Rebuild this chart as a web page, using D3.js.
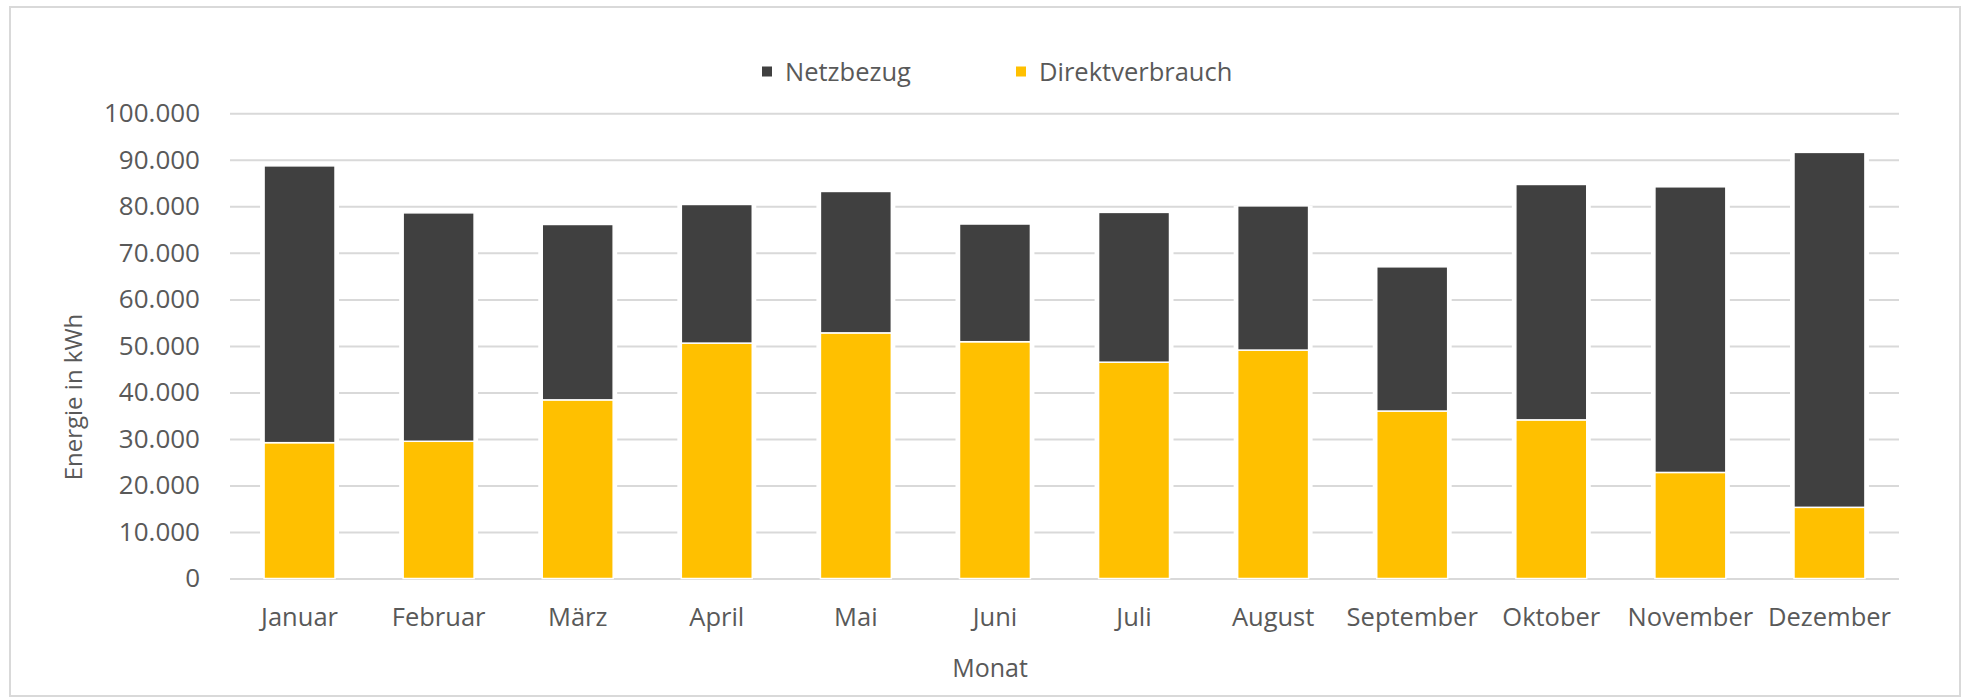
<!DOCTYPE html>
<html>
<head>
<meta charset="utf-8">
<script src="https://cdn.jsdelivr.net/npm/d3@7"></script>
<style>
  html, body { margin: 0; padding: 0; background: #fff; }
  svg { display: block; }
  text { font-family: "Open Sans", "Noto Sans", sans-serif; fill: #595959; }
</style>
</head>
<body>
<svg id="chart" width="1966" height="698"></svg>
<script>
// ---- data ----
const months = ["Januar", "Februar", "März", "April", "Mai", "Juni", "Juli", "August", "September", "Oktober", "November", "Dezember"];
const direktverbrauch = [29200, 29500, 38400, 50600, 52800, 50900, 46500, 49100, 36000, 34100, 22800, 15300];
const netzbezug = [59500, 49100, 37700, 29800, 30400, 25300, 32200, 31000, 31000, 50600, 61400, 76300];
const seriesNames = ["Netzbezug", "Direktverbrauch"];
const seriesColors = ["#404040", "#FFC000"];
const yTickValues = [0, 10000, 20000, 30000, 40000, 50000, 60000, 70000, 80000, 90000, 100000];
const yAxisTitle = "Energie in kWh";
const xAxisTitle = "Monat";

// ---- layout ----
const W = 1966, H = 698;
const plot = { left: 230, right: 1899, top: 113.3, bottom: 578.5 };

const svg = d3.select("#chart");
const deLocale = d3.formatLocale({ decimal: ",", thousands: ".", grouping: [3], currency: ["", " €"] });
const fmt = deLocale.format(",d");

// outer chart border
svg.append("rect")
  .attr("x", 10).attr("y", 7).attr("width", 1950).attr("height", 689)
  .attr("fill", "#fff").attr("stroke", "#d9d9d9").attr("stroke-width", 2);

const x = d3.scaleBand().domain(months).range([plot.left, plot.right])
  .paddingInner(0.49).paddingOuter(0.245);
const y = d3.scaleLinear().domain([0, 100000]).range([plot.bottom, plot.top]);

// gridlines
const yAxis = d3.axisLeft(y).tickValues(yTickValues).tickFormat(fmt)
  .tickSize(-(plot.right - plot.left)).tickPadding(30);
const gy = svg.append("g").attr("transform", `translate(${plot.left},0)`).call(yAxis);
gy.select(".domain").remove();
gy.selectAll(".tick line").attr("stroke", "#d9d9d9").attr("stroke-width", 2);
gy.selectAll(".tick text")
  .attr("x", -30)
  .style("font-size", "26px")
  .style("font-family", '"Open Sans", sans-serif')
  .attr("fill", "#595959");

// stacked data
const rows = months.map((m, i) => ({ month: m, Direktverbrauch: direktverbrauch[i], Netzbezug: netzbezug[i] }));
const stack = d3.stack().keys(["Direktverbrauch", "Netzbezug"]);
const stacked = stack(rows);
const colorOf = d3.scaleOrdinal().domain(seriesNames).range(seriesColors);

// white halo behind each stack (gridline gaps)
svg.append("g").selectAll("rect").data(rows).join("rect")
  .attr("x", d => x(d.month) - 4)
  .attr("width", x.bandwidth() + 8)
  .attr("y", d => y(d.Direktverbrauch + d.Netzbezug))
  .attr("height", d => y(0) - y(d.Direktverbrauch + d.Netzbezug) - 1)
  .attr("fill", "#fff");

svg.append("g").selectAll("g").data(stacked).join("g")
  .attr("fill", s => colorOf(s.key))
  .selectAll("rect").data(s => s).join("rect")
  .attr("x", d => x(d.data.month))
  .attr("width", x.bandwidth())
  .attr("y", d => y(d[1]))
  .attr("height", d => y(d[0]) - y(d[1]))
  .attr("stroke", "#fff")
  .attr("stroke-width", 1.5);

// x axis labels
const xAxis = d3.axisBottom(x).tickSize(0).tickPadding(0);
const gx = svg.append("g").attr("transform", `translate(0,${plot.bottom})`).call(xAxis);
gx.select(".domain").remove();
gx.selectAll(".tick text")
  .attr("y", 47).attr("dy", null)
  .style("font-size", "25.5px")
  .style("font-family", '"Open Sans", sans-serif')
  .attr("fill", "#595959");

// axis titles
svg.append("text")
  .attr("x", 990).attr("y", 677)
  .attr("text-anchor", "middle")
  .style("font-size", "25px")
  .text(xAxisTitle);

svg.append("text")
  .attr("transform", "translate(82,397) rotate(-90)")
  .attr("text-anchor", "middle")
  .style("font-size", "24px")
  .text(yAxisTitle);

// legend
const legendX = [762, 1016];
const lg = svg.append("g").selectAll("g").data(seriesNames).join("g")
  .attr("transform", (d, i) => `translate(${legendX[i]},0)`);
lg.append("rect")
  .attr("x", 0).attr("y", 66.5).attr("width", 10).attr("height", 10)
  .attr("fill", d => colorOf(d));
lg.append("text")
  .attr("x", 23).attr("y", 81)
  .style("font-size", "25.5px")
  .text(d => d);
</script>
</body>
</html>
